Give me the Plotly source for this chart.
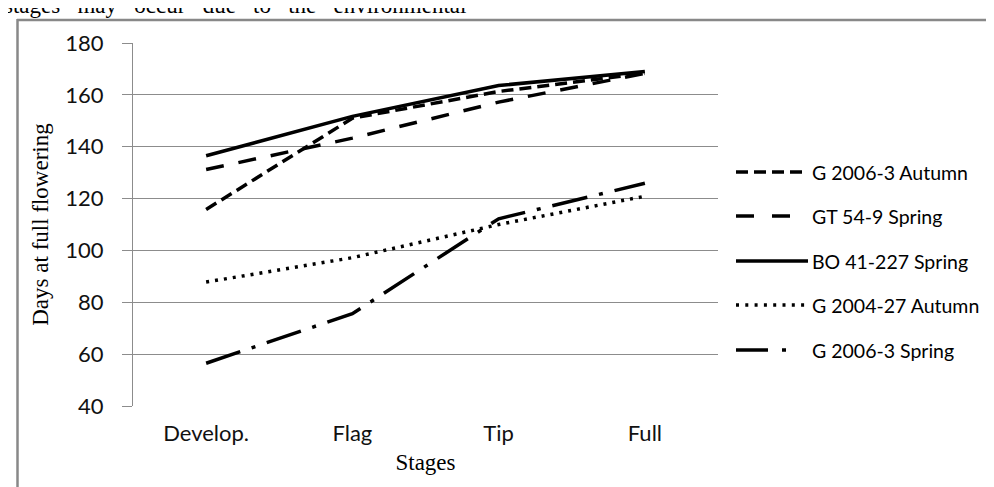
import plotly.graph_objects as go

stages = ["Develop.", "Flag", "Tip", "Full"]
g2006_autumn = [115.8, 151.0, 161.3, 168.3]
gt54_spring = [131.2, 143.3, 157.2, 168.3]
bo41_spring = [136.5, 151.7, 163.6, 169.0]
g2004_autumn = [87.8, 97.2, 110.0, 120.9]
g2006_spring = [56.5, 75.6, 112.2, 125.9]

series_names = ["G 2006-3 Autumn", "GT 54-9 Spring", "BO 41-227 Spring",
                "G 2004-27 Autumn", "G 2006-3 Spring"]
series_vals = [g2006_autumn, gt54_spring, bo41_spring, g2004_autumn, g2006_spring]
line_dash = ["12px,6px", "18px,15px", "solid", "3px,6px", "36px,12px,4px,12px"]
legend_dash = ["12px,6px", "18px,18px", "solid", "3px,6.3px", "32px,14px,4px,40px"]
line_width = [3.5, 3.5, 3.5, 3.5, 3.5]

W, H = 994, 487
L, R, T, B = 125, 284, 35, 89
pw, ph = W - L - R, H - T - B

def px(x):
    return (x - L) / pw

def py(y):
    return (H - B - y) / ph

fig = go.Figure()
for name, vals, dash, w in zip(series_names, series_vals, line_dash, line_width):
    fig.add_trace(go.Scatter(
        x=stages, y=vals, name=name, mode="lines",
        line=dict(color="black", width=w, dash=dash),
        showlegend=False,
    ))

# manual legend (samples + labels)
shapes = []
annotations = []
legend_rows = [164, 208, 253, 297, 342]
for name, dash, w, yrow in zip(series_names, legend_dash, line_width, legend_rows):
    shapes.append(dict(type="line", xref="paper", yref="paper",
                       x0=px(728), x1=px(800), y0=py(yrow), y1=py(yrow),
                       line=dict(color="black", width=w, dash=dash)))
    annotations.append(dict(text=name, xref="paper", yref="paper",
                            x=px(802), y=py(yrow), xanchor="left", yanchor="middle",
                            showarrow=False,
                            font=dict(family="Lato", size=19.5, color="black")))

# page border fragments
shapes.append(dict(type="line", xref="paper", yref="paper", x0=px(9), x1=px(994),
                   y0=py(12), y1=py(12), line=dict(color="#888888", width=2.5)))
shapes.append(dict(type="line", xref="paper", yref="paper", x0=px(9.5), x1=px(9.5),
                   y0=py(11), y1=py(487), line=dict(color="#888888", width=2.5)))

# cut-off body text above the chart
annotations.append(dict(text="stages   may   occur   due   to   the   environmental",
                        xref="paper", yref="paper", x=px(-6), y=py(-3),
                        xanchor="left", yanchor="middle", showarrow=False,
                        font=dict(family="Liberation Serif", size=23, color="black")))

fig.update_layout(
    width=W, height=H,
    margin=dict(l=L, r=R, t=T, b=B),
    paper_bgcolor="white", plot_bgcolor="white",
    showlegend=False,
    xaxis=dict(
        type="category", range=[-0.5, 3.5], showgrid=False, zeroline=False,
        showline=False, ticks="", ticklabelstandoff=12,
        tickfont=dict(family="Lato", size=22, color="#111"),
        title=dict(text="Stages", font=dict(family="Liberation Serif", size=23, color="black"),
                   standoff=8),
    ),
    yaxis=dict(
        range=[40, 180], tickvals=[40, 60, 80, 100, 120, 140, 160, 180],
        showgrid=True, gridcolor="#8c8c8c", gridwidth=1,
        showline=True, linecolor="#8c8c8c", linewidth=1,
        ticks="outside", ticklen=10, tickcolor="#8c8c8c",
        zeroline=False, ticklabelstandoff=14,
        tickfont=dict(family="Lato", size=22, color="#111"),
        title=dict(text="Days at full flowering",
                   font=dict(family="Liberation Serif", size=23, color="black"), standoff=10),
    ),
    shapes=shapes,
    annotations=annotations,
)

fig.write_html("out.html")
